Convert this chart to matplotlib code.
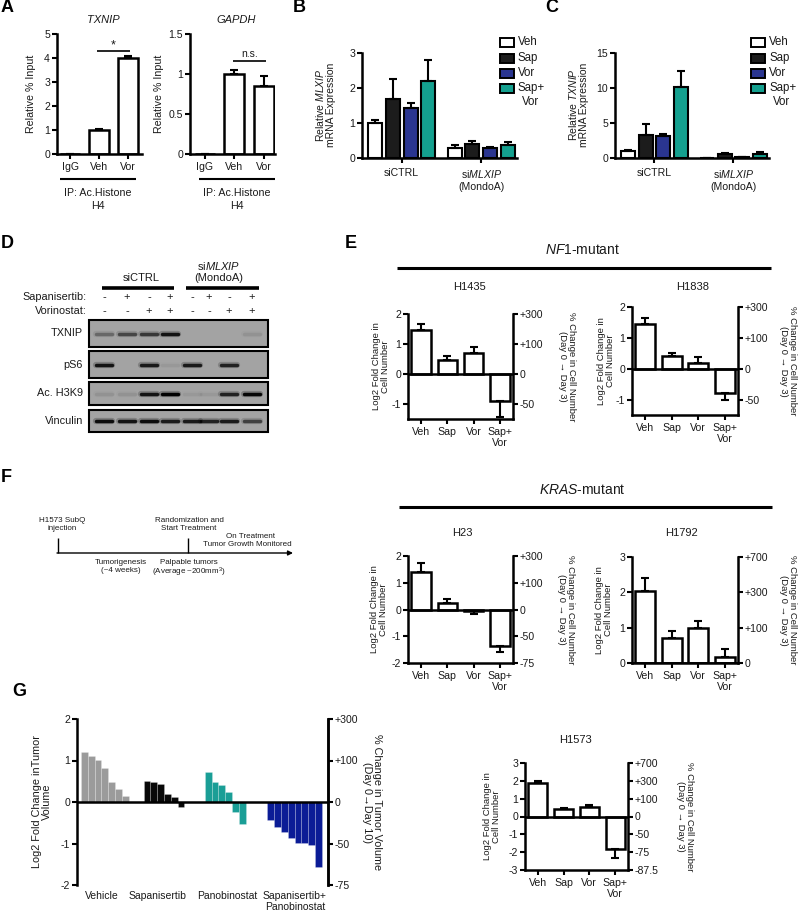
import numpy as np
import matplotlib
matplotlib.use('Agg')
import matplotlib.pyplot as plt
from matplotlib.patches import Rectangle

plt.rcParams.update({
    'font.family': ['Liberation Sans', 'DejaVu Sans'],
    'mathtext.fontset': 'custom',
    'mathtext.rm': 'Liberation Sans',
    'mathtext.it': 'Liberation Sans:italic',
    'mathtext.bf': 'Liberation Sans:bold',
    'font.size': 7.5,
    'axes.linewidth': 1.8,
    'axes.unicode_minus': False,
    'xtick.major.width': 1.5,
    'ytick.major.width': 1.5,
    'xtick.major.size': 3.5,
    'ytick.major.size': 3.5,
    'xtick.major.pad': 2,
    'ytick.major.pad': 1.5,
    'xtick.labelsize': 7.6,
    'ytick.labelsize': 7.6,
    'text.color': '#1a1a1a',
    'xtick.labelcolor': '#1a1a1a',
    'ytick.labelcolor': '#1a1a1a',
})

# ------------------------------------------------------------------ data
# Panel A (ChIP)
chip_conditions = ['IgG', 'Veh', 'Vor']
txnip_chip = [0.0, 1.0, 4.02]
txnip_chip_err = [0.0, 0.03, 0.05]
gapdh_chip = [0.0, 1.0, 0.85]
gapdh_chip_err = [0.0, 0.05, 0.13]

# Panels B / C (qPCR)
sirna_groups = ['siCTRL', 'si$\\it{MLXIP}$\n(MondoA)']
treatments = ['Veh', 'Sap', 'Vor', 'Sap+\nVor']
treatment_colors = ['white', '#1c1c1c', '#2a3590', '#14a08f']
mlxip_expr = [[1.0, 1.68, 1.42, 2.2], [0.3, 0.4, 0.28, 0.38]]
mlxip_err = [[0.08, 0.57, 0.15, 0.6], [0.08, 0.1, 0.03, 0.07]]
txnip_expr = [[1.0, 3.3, 3.2, 10.2], [0.05, 0.6, 0.12, 0.62]]
txnip_err = [[0.1, 1.5, 0.3, 2.3], [0.02, 0.15, 0.05, 0.2]]

# Panel D (western blot)
blot_rows = ['TXNIP', 'pS6', 'Ac. H3K9', 'Vinculin']
sap_signs = ['-', '+', '-', '+', '-', '+', '-', '+']
vor_signs = ['-', '-', '+', '+', '-', '-', '+', '+']
band_txnip = [0.3, 0.5, 0.6, 0.85, 0.0, 0.0, 0.0, 0.08]
band_ps6 = [0.85, 0.0, 0.8, 0.05, 0.8, 0.0, 0.75, 0.0]
band_h3k9 = [0.08, 0.08, 0.85, 1.0, 0.05, 0.05, 0.75, 0.95]
band_vinc = [0.9, 0.85, 0.9, 0.8, 0.8, 0.75, 0.8, 0.55]

# Panel E (cell lines, log2 fold change)
cell_x = ['Veh', 'Sap', 'Vor', 'Sap+\nVor']
h1435 = [1.45, 0.45, 0.7, -0.9]
h1435_err = [0.22, 0.15, 0.2, 0.55]
h1838 = [1.45, 0.4, 0.2, -0.8]
h1838_err = [0.2, 0.1, 0.17, 0.22]
h23 = [1.4, 0.25, -0.05, -1.35]
h23_err = [0.35, 0.15, 0.12, 0.25]
h1792 = [2.05, 0.7, 1.0, 0.18]
h1792_err = [0.35, 0.2, 0.18, 0.22]
h1573 = [1.9, 0.42, 0.55, -1.8]
h1573_err = [0.08, 0.05, 0.08, 0.5]

# right-axis % labels
pct_nf1_ticks = [-1, 0, 1, 2]
pct_nf1_labels = ['-50', '0', '+100', '+300']
pct_h23_ticks = [-2, -1, 0, 1, 2]
pct_h23_labels = ['-75', '-50', '0', '+100', '+300']
pct_h1792_ticks = [0, 1, 2, 3]
pct_h1792_labels = ['0', '+100', '+300', '+700']
pct_h1573_ticks = [-3, -2, -1, 0, 1, 2, 3]
pct_h1573_labels = ['-87.5', '-75', '-50', '0', '+100', '+300', '+700']

# Panel G (tumor waterfall)
g_labels = ['Vehicle', 'Sapanisertib', 'Panobinostat', 'Sapanisertib+\nPanobinostat']
veh_tumor = [1.2, 1.1, 1.02, 0.82, 0.49, 0.31, 0.15]
sap_tumor = [0.5, 0.48, 0.43, 0.19, 0.11, -0.11]
pano_tumor = [0.72, 0.49, 0.4, 0.23, -0.23, -0.54]
combo_tumor = [-0.43, -0.61, -0.73, -0.86, -0.98, -0.99, -1.03, -1.57]
g_colors = ['#9b9b9b', '#080808', '#1a9e96', '#0b1c96']

# ------------------------------------------------------------------ figure
W, H = 800, 915
fig = plt.figure(figsize=(W / 100, H / 100), dpi=100)


def ax_px(l, t, r, b):
    ax = fig.add_axes([l / W, 1 - b / H, (r - l) / W, (b - t) / H])
    ax.patch.set_alpha(0)
    return ax


ov = ax_px(0, 0, W, H)
ov.set_xlim(0, W)
ov.set_ylim(H, 0)
ov.axis('off')


def T(x, y, s, **kw):
    kw.setdefault('ha', 'center')
    kw.setdefault('va', 'center')
    return ov.text(x, y, s, **kw)


def L(x0, x1, y0, y1, lw=1.8, **kw):
    ov.plot([x0, x1], [y0, y1], color='black', lw=lw, solid_capstyle='butt', **kw)


def style(ax, right=False):
    ax.spines['top'].set_visible(False)
    ax.spines['right'].set_visible(right)
    ax.tick_params(direction='out')


# panel letters
for letter, x, y in [('A', 1, 8), ('B', 293, 8), ('C', 545, 8), ('D', 1, 244),
                     ('E', 345, 243), ('F', 1, 477), ('G', 12, 691)]:
    T(x, y, letter, ha='left', fontsize=13, fontweight='bold', color='black')

# ------------------------------------------------------------------ Panel A
for (l, r, vals, errs, ylim, yt, ytl, title, ylx, xl) in [
        (57, 142, txnip_chip, txnip_chip_err, (0, 5), [0, 1, 2, 3, 4, 5],
         ['0', '1', '2', '3', '4', '5'], 'TXNIP', 31, (-0.45, 2.48)),
        (190, 275, gapdh_chip, gapdh_chip_err, (0, 1.5), [0, 0.5, 1, 1.5],
         ['0', '0.5', '1', '1.5'], 'GAPDH', 159, (-0.5, 2.38))]:
    ax = ax_px(l, 34, r, 154)
    x = np.arange(len(vals))
    ax.bar(x, vals, width=0.68, color='white', edgecolor='black', linewidth=1.8, zorder=2)
    ax.errorbar(x, vals, yerr=[[0] * len(errs), errs], fmt='none', ecolor='black',
                elinewidth=1.5, capsize=3.2, capthick=1.5, zorder=3)
    ax.set_xlim(*xl)
    ax.set_ylim(*ylim)
    ax.set_yticks(yt)
    ax.set_yticklabels(ytl)
    ax.set_xticks(x)
    ax.set_xticklabels(chip_conditions)
    style(ax)
    T((l + r) / 2 + 4, 20, title, fontsize=8, style='italic')
    T(ylx, 94, 'Relative % Input', rotation=90, fontsize=7.7)

# significance marks
L(97, 130, 51, 51, lw=1.2)
T(113.5, 45, '*', fontsize=9)
L(233, 266, 61, 61, lw=1.2)
T(250, 54, 'n.s.', fontsize=7.5)
for cx in (98, 237):
    L(cx - 38, cx + 38, 179, 179, lw=1.5)
    T(cx, 193, 'IP: Ac.Histone', fontsize=7.7)
    T(cx, 206, 'H4', fontsize=7.7)

# ------------------------------------------------------------------ Panels B / C


def grouped(l, r, data, errs, ylim, yt, ylabel, ylx, legx):
    ax = ax_px(l, 53, r, 158)
    step, w = 0.222, 0.177
    for g in range(len(sirna_groups)):
        for k in range(len(treatments)):
            xx = g + (k - 1.5) * step
            ax.bar(xx, data[g][k], width=w, color=treatment_colors[k],
                   edgecolor='black', linewidth=1.5, zorder=2)
            ax.errorbar(xx, data[g][k], yerr=[[0], [errs[g][k]]], fmt='none',
                        ecolor='black', elinewidth=1.5, capsize=3, capthick=1.5, zorder=3)
    ax.set_xlim(-0.5, 1.45)
    ax.set_ylim(*ylim)
    ax.set_yticks(yt)
    ax.set_xticks(range(len(sirna_groups)))
    ax.set_xticklabels(sirna_groups)
    ax.tick_params(axis='x', pad=4)
    style(ax)
    T(ylx, 105, ylabel, rotation=90, fontsize=7.5, linespacing=1.1)
    # legend
    rows_y = [42, 58, 73, 88]
    for k, lab in enumerate(treatments):
        ov.add_patch(Rectangle((legx, rows_y[k] - 4.5), 14, 9,
                               facecolor=treatment_colors[k], edgecolor='black', lw=1.4))
        first = lab.split('\n')
        T(legx + 18, rows_y[k], first[0], ha='left', fontsize=8.3)
        if len(first) > 1:
            T(legx + 22, rows_y[k] + 14, first[1], ha='left', fontsize=8.3)
    return ax


grouped(362, 517, mlxip_expr, mlxip_err, (0, 3), [0, 1, 2, 3],
        'Relative $\\it{MLXIP}$\nmRNA Expression', 325, 500)
grouped(615, 769, txnip_expr, txnip_err, (0, 15), [0, 5, 10, 15],
        'Relative $\\it{TXNIP}$\nmRNA Expression', 578, 751)

# ------------------------------------------------------------------ Panel D
lane_x = [104, 127, 149, 170, 192, 209, 229, 252]
T(141, 278, 'siCTRL', fontsize=8)
T(219, 266, 'si$\\it{MLXIP}$', fontsize=8)
T(219, 278, '(MondoA)', fontsize=8)
L(102, 174, 288, 288, lw=2.6)
L(186, 259, 288, 288, lw=2.6)
T(87, 297, 'Sapanisertib:', ha='right', fontsize=7.8)
T(87, 311, 'Vorinostat:', ha='right', fontsize=7.8)
for xx, s1, s2 in zip(lane_x, sap_signs, vor_signs):
    T(xx, 297, s1, fontsize=8)
    T(xx, 311, s2, fontsize=8)

blot_boxes = [(320, 347), (351, 378), (382, 405), (410, 432)]
for name, (bt, bb), bands in zip(blot_rows, blot_boxes,
                                 [band_txnip, band_ps6, band_h3k9, band_vinc]):
    ov.add_patch(Rectangle((89, bt), 179, bb - bt, facecolor='#a3a3a3',
                           edgecolor='black', lw=1.5))
    yc = (bt + bb) / 2
    for xx, v in zip(lane_x, bands):
        if v > 0:
            ov.plot([xx - 8, xx + 8], [yc, yc], color='black', alpha=0.25 * v,
                    lw=4.5, solid_capstyle='round')
            ov.plot([xx - 8, xx + 8], [yc, yc], color='black', alpha=v,
                    lw=2.5, solid_capstyle='round')
    T(83, yc, name, ha='right', fontsize=7.8)

# ------------------------------------------------------------------ Panel E / H1573


def cell_panel(l, t, r, b, vals, errs, ylim, lticks, rticks, rlabels, title, tx, ty,
               lx, rx):
    ax = ax_px(l, t, r, b)
    x = np.arange(len(vals))
    ax.bar(x, vals, width=0.74, color='white', edgecolor='black', linewidth=1.8, zorder=2)
    lo = [e if v < 0 else 0 for v, e in zip(vals, errs)]
    hi = [e if v >= 0 else 0 for v, e in zip(vals, errs)]
    ax.errorbar(x, vals, yerr=[lo, hi], fmt='none', ecolor='black', elinewidth=1.5,
                capsize=3, capthick=1.5, zorder=3)
    ax.axhline(0, color='black', lw=1.8, zorder=4)
    ax.set_xlim(-0.5, 3.5)
    ax.set_ylim(*ylim)
    ax.set_yticks(lticks)
    ax.set_xticks(x)
    ax.set_xticklabels(cell_x)
    style(ax)
    ax2 = ax.twinx()
    ax2.patch.set_alpha(0)
    ax2.set_ylim(*ylim)
    ax2.set_yticks(rticks)
    ax2.set_yticklabels(rlabels)
    for s in ('top', 'left', 'bottom'):
        ax2.spines[s].set_visible(False)
    ax2.tick_params(direction='out')
    cy = (t + b) / 2
    T(tx, ty, title, fontsize=8)
    T(lx, cy, 'Log2 Fold Change in\nCell Number', rotation=90, fontsize=6.8,
      linespacing=1.05)
    T(rx, cy, '% Change in Cell Number\n(Day 0 \u2192 Day 3)', rotation=270,
      fontsize=6.8, linespacing=1.0)


T(583, 250, '$\\it{NF1}$-mutant', fontsize=10)
L(397, 771, 268, 268, lw=2.2)
T(582, 490, '$\\it{KRAS}$-mutant', fontsize=10)
L(399, 772, 507, 507, lw=2.2)

cell_panel(408, 314, 513, 419, h1435, h1435_err, (-1.5, 2), [-1, 0, 1, 2],
           pct_nf1_ticks, pct_nf1_labels, 'H1435', 470, 287, 381, 567)
cell_panel(632, 307, 738, 415, h1838, h1838_err, (-1.5, 2), [-1, 0, 1, 2],
           pct_nf1_ticks, pct_nf1_labels, 'H1838', 693, 287, 606, 788)
cell_panel(408, 556, 513, 663, h23, h23_err, (-2, 2), [-2, -1, 0, 1, 2],
           pct_h23_ticks, pct_h23_labels, 'H23', 462, 533, 379, 566)
cell_panel(632, 557, 738, 663, h1792, h1792_err, (0, 3), [0, 1, 2, 3],
           pct_h1792_ticks, pct_h1792_labels, 'H1792', 682, 533, 604, 788)
cell_panel(525, 763, 628, 870, h1573, h1573_err, (-3, 3), [-3, -2, -1, 0, 1, 2, 3],
           pct_h1573_ticks, pct_h1573_labels, 'H1573', 575, 740, 492, 685)

# ------------------------------------------------------------------ Panel F (timeline)
fs_t = 5.8
ov.annotate('', xy=(293, 553), xytext=(57, 553),
            arrowprops=dict(arrowstyle='-|>', lw=1.0, color='black', mutation_scale=7,
                            shrinkA=0, shrinkB=0))
L(58, 58, 538, 553, lw=1.0)
L(188, 188, 538, 553, lw=1.0)
T(62, 520, 'H1573 SubQ', fontsize=fs_t)
T(62, 529, 'injection', fontsize=fs_t)
T(189, 520, 'Randomization and', fontsize=fs_t)
T(189, 529, 'Start Treatment', fontsize=fs_t)
T(250, 536, 'On Treatment', fontsize=fs_t)
T(247, 545, 'Tumor Growth Monitored', fontsize=fs_t)
T(121, 562, 'Tumorigenesis', fontsize=fs_t)
T(121, 571, '(~4 weeks)', fontsize=fs_t)
T(189, 563, 'Palpable tumors', fontsize=fs_t)
T(189, 572, '(Average ~200mm$^3$)', fontsize=fs_t)

# ------------------------------------------------------------------ Panel G (waterfall)
axg = ax_px(77, 719, 328, 885)
g_starts = [0, 9.2, 18.2, 27.4]
for vals, c, s in zip([veh_tumor, sap_tumor, pano_tumor, combo_tumor], g_colors, g_starts):
    xx = s + np.arange(len(vals))
    axg.bar(xx, vals, width=1.0, align='edge', color=c, edgecolor=(1, 1, 1, 0.35),
            linewidth=0.4, zorder=2)
axg.axhline(0, color='black', lw=1.8, zorder=3)
axg.set_xlim(-0.6, 36.3)
axg.set_ylim(-2, 2)
axg.set_yticks([-2, -1, 0, 1, 2])
axg.set_xticks([])
for s in ('top', 'bottom'):
    axg.spines[s].set_visible(False)
axg.tick_params(direction='out')
axg2 = axg.twinx()
axg2.patch.set_alpha(0)
axg2.set_ylim(-2, 2)
axg2.set_yticks(pct_h23_ticks)
axg2.set_yticklabels(pct_h23_labels)
for s in ('top', 'bottom', 'left'):
    axg2.spines[s].set_visible(False)
axg2.tick_params(direction='out')
for lab, cx in zip(g_labels, [102, 158, 227, 295]):
    T(cx, 891, lab, va='top', fontsize=7.5, linespacing=1.15)
T(42, 802, 'Log2 Fold Change inTumor\nVolume', rotation=90, fontsize=7.8, linespacing=1.1)
T(372, 802, '% Change in Tumor Volume\n(Day 0\u2192Day 10)', rotation=270, fontsize=7.8,
  linespacing=1.1)

fig.savefig('out.png', dpi=100)
